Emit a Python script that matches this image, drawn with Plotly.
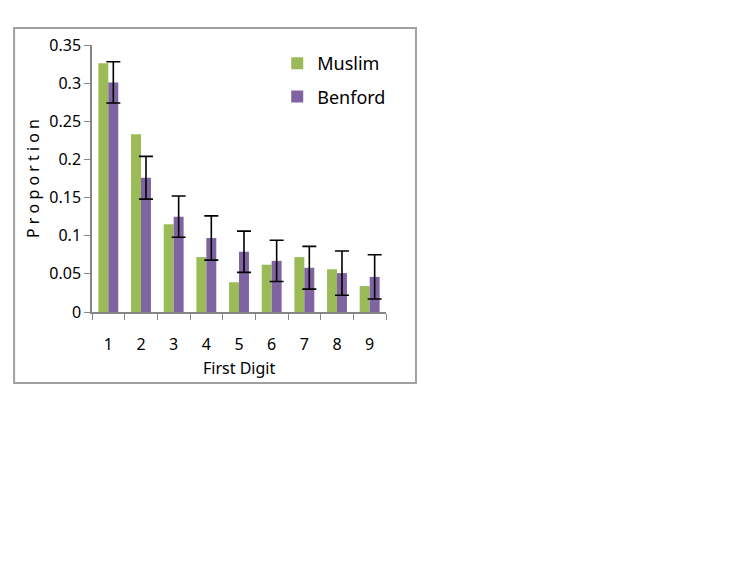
import plotly.graph_objects as go

digits = ["1", "2", "3", "4", "5", "6", "7", "8", "9"]
muslim = [0.326, 0.233, 0.115, 0.072, 0.039, 0.062, 0.072, 0.056, 0.034]
benford = [0.301, 0.176, 0.125, 0.097, 0.079, 0.067, 0.058, 0.051, 0.046]
benford_err = [0.027, 0.028, 0.027, 0.029, 0.027, 0.027, 0.028, 0.029, 0.029]
y_ticks = [0, 0.05, 0.1, 0.15, 0.2, 0.25, 0.3, 0.35]
y_tick_text = ["0", "0.05", "0.1", "0.15", "0.2", "0.25", "0.3", "0.35"]

font = "Noto Sans"
axis_grey = "#868686"

fig = go.Figure()
fig.add_trace(go.Bar(x=digits, y=muslim, name="Muslim", marker_color="#9BBB59",
                     marker_line_width=0, legendgroup="m"))
fig.add_trace(go.Bar(x=digits, y=benford, name="Benford", marker_color="#8064A2",
                     marker_line_width=0, legendgroup="b",
                     error_y=dict(type="data", array=benford_err, color="black",
                                  thickness=1.6, width=7)))

# page body has an 8px margin, so the plot area is placed 8px up/left
fig.update_layout(
    width=747, height=581,
    margin=dict(l=84, r=369, t=37, b=277),
    paper_bgcolor="white", plot_bgcolor="white",
    bargap=0.39, bargroupgap=0,
    font=dict(family=font, size=16, color="black"),
    legend=dict(x=0.63, y=1.0, xanchor="left", yanchor="top",
                font=dict(size=18), itemwidth=30, tracegroupgap=7,
                bgcolor="rgba(0,0,0,0)"),
    xaxis=dict(
        type="category", showline=True, linecolor=axis_grey, linewidth=1.5,
        ticks="outside", tickson="boundaries", ticklen=6, tickcolor=axis_grey,
        ticklabelstandoff=17, tickfont=dict(size=16), showgrid=False,
    ),
    yaxis=dict(
        range=[0, 0.35], tickvals=y_ticks, ticktext=y_tick_text,
        showline=True, linecolor=axis_grey, linewidth=1.5,
        ticks="outside", ticklen=6, tickcolor=axis_grey, showgrid=False,
        zeroline=False, tickfont=dict(size=16),
        title=dict(text="P r o p o r t i o n", font=dict(size=16), standoff=6),
    ),
    annotations=[dict(text="First Digit", xref="paper", yref="paper",
                      x=0.5, y=-0.21, xanchor="center", yanchor="middle",
                      showarrow=False, font=dict(size=16))],
    shapes=[dict(type="rect", xref="paper", yref="paper",
                 x0=-0.265, x1=1.102, y0=-0.266, y1=1.064,
                 line=dict(color="#A0A0A0", width=2), layer="below")],
)

fig.write_html("out.html")
